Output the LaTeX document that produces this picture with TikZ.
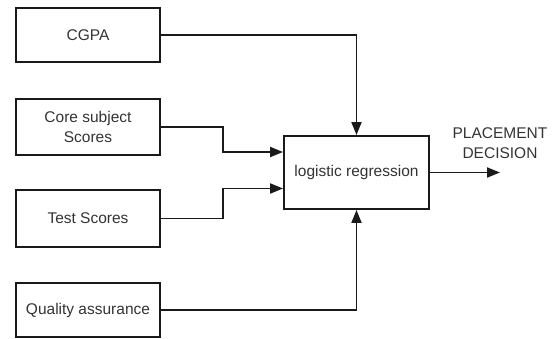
\documentclass[tikz,border=0pt]{standalone}
\usepackage{fontspec}
\setmainfont{Liberation Sans}
\usetikzlibrary{arrows.meta,calc}
\definecolor{txt}{HTML}{333333}
\definecolor{ln}{HTML}{1A1A1A}
\begin{document}
\begin{tikzpicture}[x=1pt,y=-1pt,
  box/.style={draw=ln,line width=1.9pt,minimum width=144pt,inner sep=0pt,align=center,
    text=txt,font=\fontsize{15.5}{19.5}\selectfont},
  conn/.style={draw=ln,line width=1.9pt,-{Triangle[length=13pt,width=10pt]}}]
\useasboundingbox (0,0) rectangle (560,338);
\node[box,minimum height=54pt] (cgpa) at (88,35) {CGPA};
\node[box,minimum height=56pt] (core) at (88,127) {Core subject\\Scores};
\node[box,minimum height=57pt] (test) at (88,218.5) {Test Scores};
\node[box,minimum height=54pt] (qa) at (88,310) {Quality assurance};
\node[box,minimum width=145pt,minimum height=73pt] (lr) at (356.5,172.5) {logistic regression};
\coordinate (out) at (500,172.5);
\node[align=center,text=txt,font=\fontsize{15.5}{19.5}\selectfont,inner sep=0pt] (lbl) at (500,143) {PLACEMENT\\DECISION};
\draw[conn] (cgpa.east) -| (lr.north);
\draw[conn] (core.east) -- ++(62,0) |- ($(lr.west)+(0,-20.5)$);
\draw[conn] (test.east) -- ++(62,0) |- ($(lr.west)+(0,16)$);
\draw[conn] (qa.east) -| (lr.south);
\draw[conn] (lr.east) -- (out);
\end{tikzpicture}
\end{document}
